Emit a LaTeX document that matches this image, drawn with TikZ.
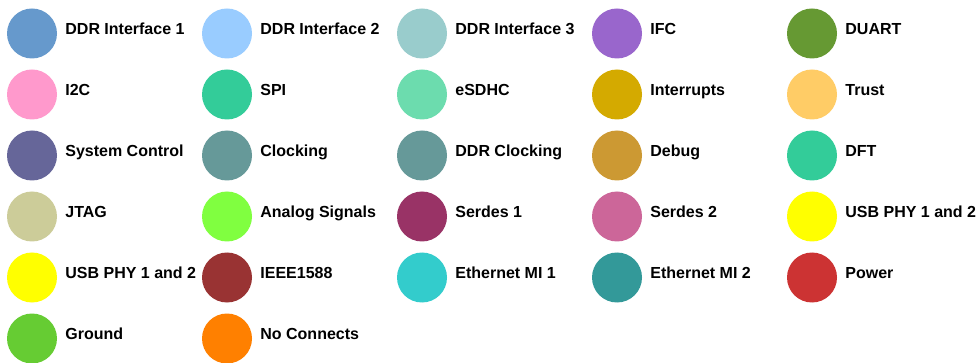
\documentclass[tikz,border=0pt]{standalone}
\usepackage{fontspec}
\setmainfont{Liberation Sans}
\usepackage{xcolor}
\usepackage{tikz}

%legend colours
\definecolor{ddrone}{HTML}{6699CC}
\definecolor{ddrtwo}{HTML}{99CCFF}
\definecolor{ddrthree}{HTML}{99CCCC}
\definecolor{ifc}{HTML}{9966CC}
\definecolor{duart}{HTML}{669933}
\definecolor{itwoc}{HTML}{FF99CC}
\definecolor{spi}{HTML}{33CC99}
\definecolor{esdhc}{HTML}{6CDCAE}
\definecolor{interrupts}{HTML}{D4AA00}
\definecolor{trust}{HTML}{FFCC66}
\definecolor{sysctrl}{HTML}{666699}
\definecolor{clocking}{HTML}{669999}
\definecolor{ddrclk}{HTML}{669999}
\definecolor{debug}{HTML}{CC9933}
\definecolor{dft}{HTML}{33CC99}
\definecolor{jtag}{HTML}{CCCC99}
\definecolor{analog}{HTML}{80FF40}
\definecolor{serdesone}{HTML}{993366}
\definecolor{serdestwo}{HTML}{CC6699}
\definecolor{usbphy}{HTML}{FFFF00}
\definecolor{ieee}{HTML}{993333}
\definecolor{ethone}{HTML}{33CCCC}
\definecolor{ethtwo}{HTML}{339999}
\definecolor{power}{HTML}{CC3333}
\definecolor{ground}{HTML}{66CC33}
\definecolor{noconn}{HTML}{FF8000}

\begin{document}
\begin{tikzpicture}[x=1pt,y=-1pt,
		dot/.style={circle,minimum size=50pt,inner sep=0pt,fill=#1},
		lbl/.style={anchor=base west,inner sep=0pt,font=\bfseries\fontsize{16}{19}\selectfont}]
		\useasboundingbox (0,0) rectangle (979,363);
		%5 per row, 195 apart, rows 61 apart
		\foreach \c/\t [count=\k from 0] in {ddrone/DDR Interface 1, ddrtwo/DDR Interface 2, ddrthree/DDR Interface 3, ifc/IFC, duart/DUART,
			itwoc/I2C, spi/SPI, esdhc/eSDHC, interrupts/Interrupts, trust/Trust,
			sysctrl/System Control, clocking/Clocking, ddrclk/DDR Clocking, debug/Debug, dft/DFT,
			jtag/JTAG, analog/Analog Signals, serdesone/Serdes 1, serdestwo/Serdes 2, usbphy/USB PHY 1 and 2,
			usbphy/USB PHY 1 and 2, ieee/IEEE1588, ethone/Ethernet MI 1, ethtwo/Ethernet MI 2, power/Power,
			ground/Ground, noconn/No Connects}{
			\pgfmathtruncatemacro\col{mod(\k,5)}
			\pgfmathtruncatemacro\row{div(\k,5)}
			\node[dot=\c] (d\k) at ({32+195*\col},{33.5+61*\row}) {};
			\node[lbl] (t\k) at ([xshift=8pt,yshift=-1pt]d\k.east) {\t};
		}
\end{tikzpicture}
\end{document}
